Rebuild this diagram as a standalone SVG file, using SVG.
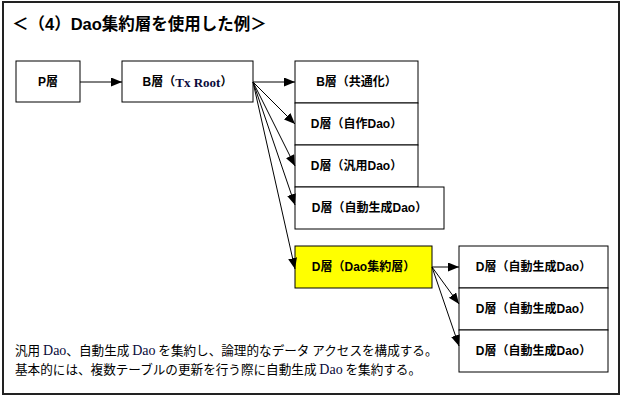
<svg xmlns="http://www.w3.org/2000/svg" width="622" height="397" viewBox="0 0 622 397">
<style>
.box{fill:#fff;stroke:#000;stroke-width:1}
.lbl{font-family:"Liberation Sans","Noto Sans CJK JP",sans-serif;font-size:12px;font-weight:bold;text-anchor:middle;dominant-baseline:central;fill:#000}
.ser{font-family:"Liberation Serif","Noto Sans CJK JP",serif;font-size:13px}
.con{stroke:#000;stroke-width:1;fill:none;marker-end:url(#ah)}
.body{font-family:"Noto Sans CJK JP",sans-serif;font-size:12.6px;fill:#000}
.bser{font-family:"Liberation Serif",serif;font-size:14px;fill:#0a0a3a}
</style>
<defs>
<marker id="ah" markerUnits="userSpaceOnUse" markerWidth="12" markerHeight="10" refX="11" refY="4.5" orient="auto">
<path d="M0,0 L11,4.5 L0,9 Z" fill="#000"/>
</marker>
</defs>
<rect x="3" y="2" width="616" height="392" fill="#fff" stroke="#222" stroke-width="2"/>
<text x="12" y="30" font-family="Liberation Sans,'Noto Sans CJK JP',sans-serif" font-size="16.5" font-weight="bold">＜（4）Dao集約層を使用した例＞</text>
<g id="nP"><rect class="box" x="16" y="61" width="64" height="41"/><text class="lbl" x="48" y="81.5">P層</text></g>
<g id="nB"><rect class="box" x="122" y="61" width="131" height="41"/><text class="lbl" x="187.5" y="81.5">B層（<tspan class="ser" fill="#0a0a3a">Tx Root</tspan>）</text></g>
<g id="nB2"><rect class="box" x="295" y="61" width="123" height="42"/><text class="lbl" x="356.5" y="82">B層（共通化）</text></g>
<g id="nD1"><rect class="box" x="295" y="103" width="123" height="42"/><text class="lbl" x="356.5" y="124">D層（自作Dao）</text></g>
<g id="nD2"><rect class="box" x="295" y="145" width="123" height="42"/><text class="lbl" x="356.5" y="166">D層（汎用Dao）</text></g>
<g id="nD3"><rect class="box" x="295" y="187" width="149" height="42"/><text class="lbl" x="369.5" y="208">D層（自動生成Dao）</text></g>
<g id="nY"><rect x="295" y="246" width="137" height="42" fill="#ffff00" stroke="#000"/><text class="lbl" x="363.5" y="267">D層（Dao集約層）</text></g>
<g id="nR1"><rect class="box" x="459" y="246" width="149" height="42"/><text class="lbl" x="533.5" y="267">D層（自動生成Dao）</text></g>
<g id="nR2"><rect class="box" x="459" y="288" width="149" height="42"/><text class="lbl" x="533.5" y="309">D層（自動生成Dao）</text></g>
<g id="nR3"><rect class="box" x="459" y="330" width="149" height="42"/><text class="lbl" x="533.5" y="351">D層（自動生成Dao）</text></g>
<g id="connectors">
<line class="con" x1="80" y1="82" x2="122" y2="82"/>
<line class="con" x1="253" y1="82" x2="295" y2="82"/>
<line class="con" x1="253" y1="82" x2="295" y2="124"/>
<line class="con" x1="253" y1="82" x2="295" y2="166"/>
<line class="con" x1="253" y1="82" x2="295" y2="205"/>
<line class="con" x1="253" y1="82" x2="295" y2="269"/>
<line class="con" x1="432" y1="267" x2="459" y2="267"/>
<line class="con" x1="432" y1="267" x2="459" y2="304"/>
<line class="con" x1="432" y1="267" x2="459" y2="346"/>
</g>
<text class="body" x="15" y="355">汎用 <tspan class="bser">Dao</tspan>、自動生成 <tspan class="bser">Dao</tspan> を集約し、論理的なデータ アクセスを構成する。</text>
<text class="body" x="15" y="374">基本的には、複数テーブルの更新を行う際に自動生成 <tspan class="bser">Dao</tspan> を集約する。</text>
</svg>
